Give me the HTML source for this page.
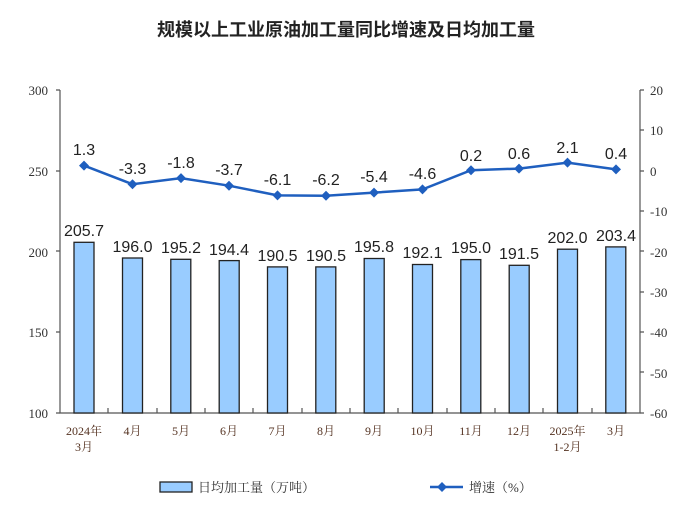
<!DOCTYPE html><html><head><meta charset="utf-8"><style>body{margin:0;background:#fff}svg{display:block}</style></head><body>
<svg width="692" height="511" viewBox="0 0 692 511" xmlns="http://www.w3.org/2000/svg">
<text x="346" y="36" text-anchor="middle" font-family="Liberation Sans, Noto Sans CJK SC, sans-serif" font-size="18" font-weight="bold" fill="#222">规模以上工业原油加工量同比增速及日均加工量</text>
<g font-family="Liberation Serif, Noto Serif CJK SC, serif" font-size="13" fill="#333">
<text x="48" y="95" text-anchor="end">300</text><text x="48" y="176" text-anchor="end">250</text><text x="48" y="257" text-anchor="end">200</text><text x="48" y="337" text-anchor="end">150</text><text x="48" y="418" text-anchor="end">100</text>
<text x="650" y="95">20</text><text x="650" y="135">10</text><text x="650" y="176">0</text><text x="650" y="216">-10</text><text x="650" y="257">-20</text><text x="650" y="297">-30</text><text x="650" y="337">-40</text><text x="650" y="378">-50</text><text x="650" y="418">-60</text>
</g>
<g stroke="#555" stroke-width="1.2" fill="none">
<path d="M60 90V413H640V90"/>
<path d="M60 90h-4M60 171h-4M60 251h-4M60 332h-4M60 413h-4"/>
<path d="M640 90h4M640 130h4M640 171h4M640 211h4M640 251h4M640 292h4M640 332h4M640 372h4M640 413h4"/>
<path d="M108 413v-5M157 413v-5M205 413v-5M253 413v-5M302 413v-5M350 413v-5M398 413v-5M447 413v-5M495 413v-5M543 413v-5M592 413v-5"/>
</g>
<g fill="#99ccff" stroke="#222" stroke-width="1.3">
<rect x="74" y="242.3" width="20" height="170.7"/>
<rect x="122.5" y="258" width="20" height="155"/>
<rect x="170.8" y="259.3" width="20" height="153.7"/>
<rect x="219.2" y="260.6" width="20" height="152.4"/>
<rect x="267.5" y="266.9" width="20" height="146.1"/>
<rect x="315.8" y="266.9" width="20" height="146.1"/>
<rect x="364.2" y="258.5" width="20" height="154.5"/>
<rect x="412.5" y="264.5" width="20" height="148.5"/>
<rect x="460.8" y="259.6" width="20" height="153.4"/>
<rect x="509.2" y="265.3" width="20" height="147.7"/>
<rect x="557.5" y="249.2" width="20" height="163.8"/>
<rect x="605.8" y="246.9" width="20" height="166.1"/>
</g>
<g font-family="Liberation Sans, sans-serif" font-size="16" fill="#222" text-anchor="middle">
<text x="84" y="236">205.7</text><text x="132.5" y="252">196.0</text><text x="181" y="253">195.2</text><text x="229" y="255">194.4</text><text x="277.5" y="261">190.5</text><text x="326" y="261">190.5</text><text x="374" y="252">195.8</text><text x="422.5" y="258">192.1</text><text x="471" y="253">195.0</text><text x="519" y="259">191.5</text><text x="567.5" y="243">202.0</text><text x="616" y="241">203.4</text>
<text x="84" y="155">1.3</text><text x="132.5" y="174">-3.3</text><text x="181" y="168">-1.8</text><text x="229" y="175">-3.7</text><text x="277.5" y="185">-6.1</text><text x="326" y="185">-6.2</text><text x="374" y="182">-5.4</text><text x="422.5" y="179">-4.6</text><text x="471" y="161">0.2</text><text x="519" y="159">0.6</text><text x="567.5" y="153">2.1</text><text x="616" y="159">0.4</text>
</g>
<polyline fill="none" stroke="#1f5fbf" stroke-width="2.5" points="84,165.6 132.5,184.2 181,178.1 229,185.7 277.5,195.4 326,195.8 374,192.6 422.5,189.4 471,170.2 519,168.6 567.5,162.6 616,169.4"/>
<g fill="#1f5fbf">
<path d="M84 160.6l5 5-5 5-5-5z"/><path d="M132.5 179.2l5 5-5 5-5-5z"/><path d="M181 173.1l5 5-5 5-5-5z"/><path d="M229 180.7l5 5-5 5-5-5z"/><path d="M277.5 190.4l5 5-5 5-5-5z"/><path d="M326 190.8l5 5-5 5-5-5z"/><path d="M374 187.6l5 5-5 5-5-5z"/><path d="M422.5 184.4l5 5-5 5-5-5z"/><path d="M471 165.2l5 5-5 5-5-5z"/><path d="M519 163.6l5 5-5 5-5-5z"/><path d="M567.5 157.6l5 5-5 5-5-5z"/><path d="M616 164.4l5 5-5 5-5-5z"/>
</g>
<g font-family="Liberation Serif, Noto Serif CJK SC, serif" font-size="12" fill="#553322" text-anchor="middle">
<text x="84" y="435">2024年</text><text x="84" y="451">3月</text><text x="132.5" y="435">4月</text><text x="181" y="435">5月</text><text x="229" y="435">6月</text><text x="277.5" y="435">7月</text><text x="326" y="435">8月</text><text x="374" y="435">9月</text><text x="422.5" y="435">10月</text><text x="471" y="435">11月</text><text x="519" y="435">12月</text><text x="567.5" y="435">2025年</text><text x="567.5" y="451">1-2月</text><text x="616" y="435">3月</text>
</g>
<rect x="160" y="482" width="32" height="10" fill="#99ccff" stroke="#222" stroke-width="1.3"/>
<g font-family="Liberation Serif, Noto Serif CJK SC, serif" font-size="13" fill="#333">
<text x="198" y="492">日均加工量（万吨）</text><text x="469" y="492">增速（%）</text></g>
<path d="M430 487H463" stroke="#1f5fbf" stroke-width="2.5"/><path d="M442 482l5 5-5 5-5-5z" fill="#1f5fbf"/>
</svg></body></html>
